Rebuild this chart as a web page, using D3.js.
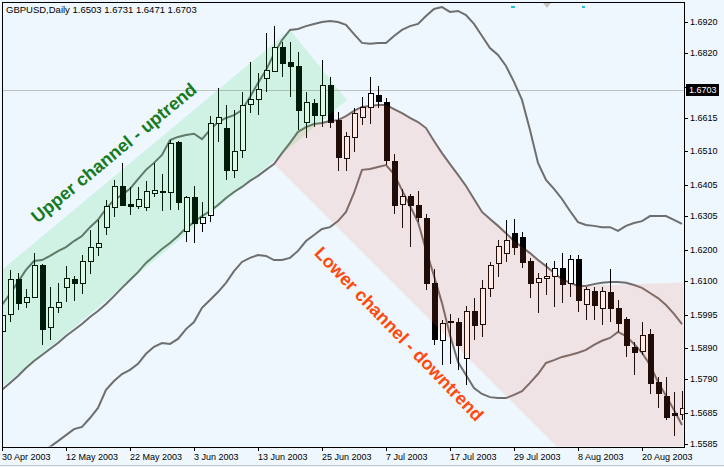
<!DOCTYPE html>
<html><head><meta charset="utf-8">
<script src="https://cdn.jsdelivr.net/npm/d3@7"></script>
<style>
html,body{margin:0;padding:0;background:#eef7fe;}
svg{display:block;}
text{font-family:"Liberation Sans",Arial,sans-serif;}
</style></head><body>
<svg id="c" width="724" height="467"></svg>
<script>
// ---- data ----
const opens  = [1.5943,1.5997,1.6107,1.6035,1.6050,1.6151,1.5956,1.6019,1.6082,1.6107,1.6095,1.6164,1.6208,1.6271,1.6335,1.6401,1.6344,1.6338,1.6335,1.6379,1.6385,1.6382,1.6540,1.6259,1.6366,1.6284,1.6309,1.6600,1.6584,1.6452,1.6515,1.6660,1.6676,1.6742,1.6764,1.6840,1.6793,1.6780,1.6603,1.6663,1.6625,1.6720,1.6609,1.6490,1.6556,1.6619,1.6651,1.6688,1.6666,1.6480,1.6344,1.6369,1.6341,1.6300,1.6095,1.5915,1.5974,1.5971,1.5858,1.6006,1.5965,1.6079,1.6158,1.6189,1.6252,1.6240,1.6164,1.6098,1.6110,1.6117,1.6142,1.6095,1.6170,1.6028,1.6069,1.6016,1.6066,1.6016,1.5981,1.5892,1.5880,1.5934,1.5782,1.5738,1.5684,1.5681];
const highs  = [1.6035,1.6136,1.6126,1.6076,1.6189,1.6155,1.6082,1.6095,1.6148,1.6117,1.6183,1.6262,1.6294,1.6357,1.6420,1.6474,1.6398,1.6398,1.6417,1.6474,1.6439,1.6546,1.6543,1.6369,1.6401,1.6350,1.6622,1.6711,1.6657,1.6641,1.6698,1.6793,1.6758,1.6884,1.6906,1.6856,1.6856,1.6824,1.6698,1.6676,1.6799,1.6745,1.6635,1.6571,1.6647,1.6682,1.6745,1.6717,1.6679,1.6502,1.6391,1.6376,1.6385,1.6313,1.6139,1.5978,1.5997,1.5984,1.6022,1.6047,1.6104,1.6161,1.6230,1.6294,1.6297,1.6256,1.6174,1.6126,1.6158,1.6164,1.6189,1.6183,1.6183,1.6082,1.6082,1.6082,1.6139,1.6041,1.5987,1.5908,1.5971,1.5949,1.5798,1.5798,1.5750,1.5754];
const lows   = [1.5908,1.5971,1.6009,1.6016,1.6047,1.5899,1.5915,1.6000,1.6035,1.6038,1.6060,1.6123,1.6180,1.6246,1.6303,1.6338,1.6309,1.6329,1.6322,1.6366,1.6322,1.6325,1.6325,1.6224,1.6220,1.6256,1.6287,1.6540,1.6420,1.6426,1.6490,1.6631,1.6625,1.6698,1.6761,1.6745,1.6682,1.6578,1.6553,1.6587,1.6587,1.6584,1.6448,1.6448,1.6508,1.6594,1.6597,1.6647,1.6467,1.6313,1.6268,1.6208,1.6287,1.6072,1.5899,1.5836,1.5839,1.5820,1.5772,1.5915,1.5924,1.6050,1.6114,1.6161,1.6183,1.6142,1.6047,1.6000,1.6057,1.6019,1.6031,1.6050,1.6003,1.5978,1.5978,1.5962,1.5971,1.5940,1.5861,1.5804,1.5867,1.5744,1.5700,1.5662,1.5611,1.5662];
const closes = [1.5993,1.6107,1.6031,1.6050,1.6151,1.5949,1.6019,1.6035,1.6110,1.6095,1.6164,1.6208,1.6221,1.6338,1.6401,1.6341,1.6338,1.6360,1.6385,1.6388,1.6382,1.6537,1.6350,1.6366,1.6284,1.6303,1.6600,1.6619,1.6452,1.6512,1.6657,1.6676,1.6707,1.6767,1.6840,1.6790,1.6780,1.6641,1.6666,1.6625,1.6720,1.6603,1.6493,1.6559,1.6632,1.6651,1.6695,1.6669,1.6483,1.6341,1.6369,1.6341,1.6303,1.6095,1.5918,1.5968,1.5971,1.5899,1.6006,1.5961,1.6079,1.6151,1.6211,1.6230,1.6208,1.6161,1.6095,1.6110,1.6117,1.6142,1.6091,1.6170,1.6041,1.6076,1.6025,1.6069,1.6016,1.5968,1.5899,1.5877,1.5930,1.5779,1.5747,1.5671,1.5678,1.5700];
const bbUpper  = [1.6025,1.6060,1.6098,1.6136,1.6164,1.6167,1.6180,1.6195,1.6208,1.6227,1.6243,1.6271,1.6294,1.6329,1.6357,1.6373,1.6392,1.6423,1.6452,1.6474,1.6499,1.6546,1.6556,1.6562,1.6566,1.6549,1.6578,1.6603,1.6616,1.6625,1.6641,1.6682,1.6726,1.6767,1.6818,1.6862,1.6894,1.6897,1.6906,1.6913,1.6919,1.6922,1.6919,1.6910,1.6881,1.6853,1.6850,1.6853,1.6853,1.6875,1.6894,1.6906,1.6913,1.6938,1.6960,1.6966,1.6951,1.6954,1.6941,1.6913,1.6875,1.6837,1.6815,1.6780,1.6730,1.6673,1.6578,1.6474,1.6420,1.6392,1.6360,1.6322,1.6287,1.6278,1.6275,1.6271,1.6271,1.6259,1.6275,1.6284,1.6290,1.6306,1.6306,1.6306,1.6294,1.6281];
const bbMiddle = [1.5757,1.5779,1.5801,1.5826,1.5848,1.5867,1.5886,1.5905,1.5927,1.5946,1.5965,1.5987,1.6006,1.6028,1.6053,1.6079,1.6104,1.6129,1.6158,1.6180,1.6202,1.6221,1.6243,1.6268,1.6287,1.6306,1.6322,1.6341,1.6363,1.6382,1.6398,1.6417,1.6433,1.6452,1.6470,1.6505,1.6537,1.6572,1.6587,1.6597,1.6600,1.6606,1.6609,1.6622,1.6638,1.6651,1.6654,1.6657,1.6657,1.6644,1.6631,1.6616,1.6603,1.6584,1.6543,1.6505,1.6470,1.6436,1.6401,1.6360,1.6319,1.6297,1.6275,1.6252,1.6227,1.6208,1.6189,1.6167,1.6148,1.6126,1.6107,1.6095,1.6085,1.6085,1.6091,1.6095,1.6098,1.6098,1.6095,1.6088,1.6079,1.6063,1.6047,1.6025,1.5997,1.5965];
const bbLower  = [1.5488,1.5497,1.5504,1.5516,1.5532,1.5567,1.5577,1.5595,1.5614,1.5633,1.5640,1.5668,1.5700,1.5757,1.5785,1.5807,1.5820,1.5839,1.5871,1.5893,1.5905,1.5902,1.5918,1.5949,1.5971,1.6016,1.6041,1.6066,1.6095,1.6132,1.6161,1.6174,1.6183,1.6180,1.6167,1.6167,1.6174,1.6196,1.6227,1.6246,1.6265,1.6271,1.6290,1.6319,1.6379,1.6452,1.6455,1.6461,1.6467,1.6439,1.6388,1.6338,1.6287,1.6199,1.6117,1.6031,1.5930,1.5845,1.5804,1.5763,1.5744,1.5734,1.5731,1.5731,1.5741,1.5753,1.5779,1.5807,1.5842,1.5851,1.5861,1.5867,1.5874,1.5883,1.5899,1.5912,1.5921,1.5940,1.5927,1.5902,1.5874,1.5836,1.5782,1.5738,1.5693,1.5646];
const yTicks = [1.6920,1.6820,1.6715,1.6615,1.6510,1.6405,1.6305,1.6200,1.6100,1.5995,1.5890,1.5790,1.5685,1.5585];
const xTickLabels = ["30 Apr 2003","12 May 2003","22 May 2003","3 Jun 2003","13 Jun 2003","25 Jun 2003","7 Jul 2003","17 Jul 2003","29 Jul 2003","8 Aug 2003","20 Aug 2003"];
const bidPrice = 1.6703;
const titleText = "GBPUSD,Daily  1.6503 1.6731 1.6471 1.6703";
// annotation channels: [bar index, price] corners
const upChannel = [[-7.75,1.5973],[36,1.6894],[43.125,1.6673],[-0.625,1.5751]];
const downTopRange = [34,72];                       // down channel top follows the middle band over these bars
const downChannelRest = [[87.25,1.6098],[87.25,1.5346],[78.5,1.5346],[33.875,1.6474]];

// ---- build ----
const W=724,H=467, L=2, R=684, T=2, B=447;
const svg=d3.select("#c");
const fmt=d3.utcFormat("%-d %b %Y");
const dates=d3.utcDay.range(new Date(Date.UTC(2003,3,30)), new Date(Date.UTC(2003,7,28))).filter(d=>d.getUTCDay()%6!==0);
const n=opens.length;
const x=d3.scaleLinear().domain([0,n-1]).range([2,682]);
const y=d3.scaleLinear().domain([1.5585,1.6920]).range([444.3,21.7]);

svg.append("rect").attr("width",W).attr("height",H).attr("fill","#eef7fe");
svg.append("line").attr("x1",0).attr("x2",W).attr("y1",465.5).attr("y2",465.5).attr("stroke","#c8c8c8");

svg.append("clipPath").attr("id","clip").append("rect").attr("x",L+0.5).attr("y",T+0.5).attr("width",R-L-1).attr("height",B-T-1);
const plot=svg.append("g").attr("clip-path","url(#clip)");

// bid line
plot.append("line").attr("x1",L).attr("x2",R).attr("y1",Math.round(y(bidPrice))+0.5).attr("y2",Math.round(y(bidPrice))+0.5).attr("stroke","#c0c0c0");

// bands
const line=d3.line().x((d,i)=>x(i)).y(d=>y(d));
[bbUpper,bbMiddle,bbLower].forEach(arr=>{
  plot.append("path").attr("d",line(arr)).attr("fill","none").attr("stroke","#6e6e6e").attr("stroke-width",2);
});

// candles
const cg=plot.append("g").attr("shape-rendering","crispEdges");
d3.range(n).forEach(i=>{
  const cx=Math.round(x(i));
  cg.append("line").attr("x1",cx+0.5).attr("x2",cx+0.5).attr("y1",Math.round(y(highs[i]))).attr("y2",Math.round(y(lows[i]))).attr("stroke","#000");
  const top=Math.round(y(Math.max(opens[i],closes[i]))), bot=Math.round(y(Math.min(opens[i],closes[i])));
  const bull=closes[i]>=opens[i];
  cg.append("rect").attr("x",cx-2+0.5).attr("y",top+0.5).attr("width",5).attr("height",Math.max(bot-top,0)).attr("fill",bull?"#fff":"#000").attr("stroke","#000");
});

// channel overlays
const poly=d3.line().x(d=>x(d[0])).y(d=>y(d[1]));
plot.append("path").attr("d",poly(upChannel)+"Z").attr("fill","#00d040").attr("fill-opacity",0.13);
const downPts=d3.range(downTopRange[0],downTopRange[1]+1).map(i=>[i,bbMiddle[i]]).concat(downChannelRest);
plot.append("path").attr("d",poly(downPts)+"Z").attr("fill","#ff6040").attr("fill-opacity",0.13);

// annotations
plot.append("text").attr("transform","translate(114,153) rotate(-39.5)").attr("text-anchor","middle").attr("dominant-baseline","central")
  .attr("font-size",18).attr("font-weight","bold").attr("fill","#167a1e").text("Upper channel - uptrend");
plot.append("text").attr("transform","translate(399,334) rotate(46)").attr("text-anchor","middle").attr("dominant-baseline","central")
  .attr("font-size",18).attr("font-weight","bold").attr("fill","#ff4a0c").text("Lower channel - downtrend");

// small markers
svg.append("path").attr("d","M543,3L551,3L547,8Z").attr("fill","#c4c4c4");
svg.append("rect").attr("x",511).attr("y",6).attr("width",4).attr("height",2).attr("fill","#22c0d0");
svg.append("rect").attr("x",582).attr("y",6).attr("width",3).attr("height",2).attr("fill","#22c0d0");

// frame
svg.append("rect").attr("x",L+0.5).attr("y",T+0.5).attr("width",R-L).attr("height",B-T).attr("fill","none").attr("stroke","#000").attr("shape-rendering","crispEdges");

// y axis
const yAxis=svg.append("g").attr("font-size",9);
yTicks.forEach(v=>{
  const yy=Math.round(y(v));
  yAxis.append("line").attr("x1",R).attr("x2",R+4).attr("y1",yy+0.5).attr("y2",yy+0.5).attr("stroke","#000");
  yAxis.append("text").attr("x",690).attr("y",yy).attr("dy","0.35em").attr("fill","#000").text(v.toFixed(4));
});
// bid label
const by=Math.round(y(bidPrice));
svg.append("rect").attr("x",686).attr("y",by-6).attr("width",33).attr("height",12).attr("fill","#000");
svg.append("text").attr("x",689).attr("y",by).attr("dy","0.35em").attr("font-size",9).attr("fill","#fff").text(bidPrice.toFixed(4));

// x axis
const xAxis=svg.append("g").attr("font-size",9);
xTickLabels.forEach(lbl=>{
  const i=dates.findIndex(d=>fmt(d)===lbl);
  const xx=Math.round(x(i));
  xAxis.append("line").attr("x1",xx+0.5).attr("x2",xx+0.5).attr("y1",B).attr("y2",B+4).attr("stroke","#000");
  xAxis.append("text").attr("x",xx).attr("y",457).attr("dy","0.35em").attr("fill","#000").text(lbl);
});

// title
svg.append("text").attr("x",6).attr("y",10).attr("dy","0.35em").attr("font-size",9.5).attr("fill","#000").text(titleText);
</script>
</body></html>
